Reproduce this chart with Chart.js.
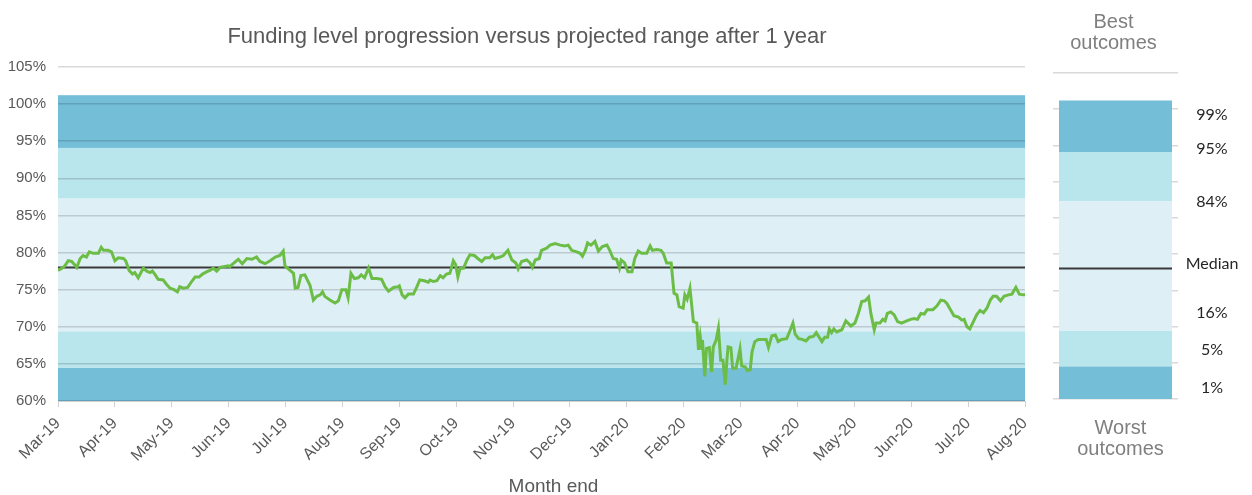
<!DOCTYPE html>
<html>
<head>
<meta charset="utf-8">
<script src="https://cdn.jsdelivr.net/npm/chart.js@4.4.1/dist/chart.umd.min.js"></script>
<style>
  html, body { margin: 0; padding: 0; background: #fff; }
  #wrap { position: relative; width: 1252px; height: 495px; overflow: hidden; }
  #mainChart { position: absolute; left: 0; top: 0; }
  #rangeChart { position: absolute; left: 1045px; top: 0; }
</style>
</head>
<body>
<div id="wrap">
  <canvas id="mainChart" width="1054" height="495"></canvas>
  <canvas id="rangeChart" width="207" height="495"></canvas>
</div>
<script>
// month-end tick labels (evenly spaced, one per month)
const monthLabels = ['Mar-19', 'Apr-19', 'May-19', 'Jun-19', 'Jul-19', 'Aug-19', 'Sep-19', 'Oct-19', 'Nov-19',
  'Dec-19', 'Jan-20', 'Feb-20', 'Mar-20', 'Apr-20', 'May-20', 'Jun-20', 'Jul-20', 'Aug-20'];

// position along the axis in months since Mar-19
const monthPos = [
  0, 0.07, 0.12, 0.18, 0.24, 0.30, 0.33, 0.39, 0.44, 0.50, 0.55, 0.62, 0.71, 0.76, 0.80, 0.88, 0.94,
  1.00, 1.06, 1.15, 1.19, 1.25, 1.31, 1.35, 1.41, 1.50, 1.56, 1.62, 1.66, 1.71, 1.76, 1.85, 1.91, 1.97,
  2.04, 2.10, 2.14, 2.20, 2.28, 2.35, 2.41, 2.48, 2.54, 2.61, 2.67, 2.73, 2.79, 2.85, 2.91, 2.99,
  3.02, 3.11, 3.17, 3.24, 3.32, 3.41, 3.49, 3.55, 3.64, 3.73, 3.82, 3.90, 3.96, 3.99,
  4.08, 4.14, 4.17, 4.22, 4.27, 4.34, 4.43, 4.49, 4.55, 4.61, 4.65, 4.69, 4.78, 4.87, 4.93, 4.99,
  5.06, 5.10, 5.15, 5.21, 5.28, 5.33, 5.39, 5.46, 5.52, 5.60, 5.69, 5.75, 5.81, 5.90, 5.98,
  6.00, 6.05, 6.10, 6.16, 6.25, 6.31, 6.36, 6.44, 6.51, 6.54, 6.60, 6.66, 6.72, 6.77, 6.83, 6.89, 6.95, 6.99,
  7.03, 7.07, 7.13, 7.19, 7.24, 7.32, 7.38, 7.45, 7.51, 7.59, 7.64, 7.68, 7.77, 7.83, 7.91, 7.98,
  8.05, 8.09, 8.15, 8.24, 8.30, 8.34, 8.39, 8.46, 8.50, 8.59, 8.65, 8.74, 8.83, 8.91, 8.97,
  9.03, 9.12, 9.18, 9.22, 9.27, 9.31, 9.37, 9.44, 9.50, 9.57, 9.65, 9.70, 9.76, 9.82, 9.87, 9.90, 9.96,
  10.02, 10.09, 10.14, 10.20, 10.26, 10.35, 10.41, 10.45, 10.53, 10.60, 10.64, 10.70, 10.78,
  10.83, 10.88, 10.92, 10.99, 11.02, 11.06, 11.11, 11.17, 11.23, 11.26, 11.29, 11.32, 11.33, 11.37, 11.40,
  11.45, 11.49, 11.52, 11.57, 11.61, 11.65, 11.69, 11.73, 11.76, 11.78, 11.83, 11.86, 11.92, 11.99,
  12.02, 12.08, 12.12, 12.17, 12.20, 12.25, 12.31, 12.40, 12.45, 12.49, 12.55, 12.61, 12.66, 12.72,
  12.81, 12.87, 12.92, 12.96, 13.02,
  13.08, 13.15, 13.21, 13.28, 13.33, 13.38, 13.43, 13.48, 13.53, 13.56, 13.60, 13.64, 13.69, 13.78, 13.85, 13.94,
  14.01, 14.07, 14.13, 14.19, 14.25, 14.29, 14.35, 14.38, 14.45, 14.50, 14.54, 14.58, 14.64, 14.70, 14.76, 14.83, 14.92, 14.99,
  15.05, 15.11, 15.17, 15.23, 15.28, 15.38, 15.45, 15.52, 15.58, 15.63, 15.69, 15.75, 15.83, 15.89, 15.93, 15.98,
  16.03, 16.08, 16.15, 16.21, 16.27, 16.33, 16.39, 16.44, 16.50, 16.57, 16.63, 16.71, 16.77, 16.84, 16.90, 16.97, 17.00
];

// funding level (%) at each position above
const fundingLevel = [
  77.6, 77.9, 78.2, 78.9, 78.8, 78.3, 78.0, 79.2, 79.6, 79.4, 80.1, 79.9, 79.9, 80.7, 80.3, 80.3, 80.1,
  78.9, 79.3, 79.2, 78.9, 77.6, 77.1, 77.3, 76.6, 77.9, 77.5, 77.3, 77.5, 77.0, 76.4, 76.3, 75.7, 75.2,
  75.0, 74.7, 75.4, 75.2, 75.3, 76.1, 76.7, 76.7, 77.1, 77.4, 77.6, 77.9, 77.5, 78.0, 78.1, 78.2,
  78.1, 78.7, 79.1, 78.5, 79.2, 79.1, 79.4, 78.8, 78.5, 78.9, 79.4, 79.6, 80.2, 78.2,
  77.6, 77.2, 75.2, 75.3, 76.9, 77.0, 75.6, 73.6, 74.1, 74.3, 74.7, 74.1, 73.6, 73.2, 73.5, 75.0,
  75.0, 73.9, 77.2, 76.5, 76.6, 77.0, 76.6, 77.9, 76.5, 76.5, 76.4, 75.4, 74.8, 75.3, 75.4,
  75.5, 74.3, 73.9, 74.4, 74.4, 75.4, 76.3, 76.2, 76.0, 76.3, 76.1, 76.2, 76.9, 76.6, 77.1, 77.2, 78.9, 78.4,
  76.7, 77.9, 77.9, 79.0, 79.7, 79.6, 79.2, 78.8, 79.3, 79.3, 79.7, 79.2, 79.4, 79.6, 80.3, 79.0,
  78.6, 77.8, 78.8, 79.0, 78.6, 78.0, 79.0, 79.2, 80.3, 80.6, 81.0, 81.2, 81.0, 80.9, 81.0,
  80.3, 80.1, 79.9, 79.5, 80.3, 81.3, 81.0, 81.5, 80.2, 80.8, 81.0, 80.3, 79.2, 79.1, 77.9, 79.0, 78.6,
  77.4, 77.4, 79.2, 80.2, 79.9, 79.9, 80.9, 80.3, 80.4, 80.3, 79.9, 78.6, 78.6,
  74.5, 74.3, 72.7, 72.5, 74.3, 73.7, 75.2, 70.7, 70.5, 66.9, 68.7, 66.9, 68.2, 63.3, 67.1,
  67.2, 63.9, 67.3, 68.2, 69.8, 65.5, 65.5, 62.2, 65.5, 67.3, 67.2, 64.4, 64.4, 67.0,
  64.7, 64.6, 64.1, 64.2, 66.6, 68.0, 68.3, 68.3, 68.3, 67.2, 68.8, 68.9, 68.0, 68.3,
  68.4, 69.5, 70.5, 69.0, 68.4,
  68.3, 68.1, 68.6, 68.7, 69.2, 68.6, 68.0, 68.6, 68.6, 69.7, 69.2, 69.7, 69.3, 69.6, 70.8, 70.1,
  70.5, 71.8, 73.4, 73.5, 74.0, 71.8, 69.6, 70.5, 70.5, 71.0, 70.8, 71.8, 72.0, 71.6, 70.7, 70.5, 70.8, 71.0,
  71.1, 71.0, 71.8, 71.7, 72.3, 72.3, 72.8, 73.6, 73.5, 73.1, 72.3, 71.5, 71.3, 70.9, 71.0, 70.0,
  69.7, 70.5, 71.6, 72.2, 71.9, 72.5, 73.6, 74.1, 74.1, 73.5, 74.1, 74.3, 74.4, 75.3, 74.4, 74.3, 74.3
];

const medianLevel = 78;
// projected range band edges (%), bottom to top: 1%, 5%, 16%, 84%, 95%, 99%
const bandEdges = [60, 64.5, 69.4, 87.3, 94.1, 101.2];
const rangeLabels = ['99%', '95%', '84%', 'Median', '16%', '5%', '1%'];
const rangeLabelPos = [99.2, 94.5, 87.2, 78.6, 71.9, 66.8, 61.6];

const chartTitle = 'Funding level progression versus projected range after 1 year';
const xTitle = 'Month end';

const bandColors = ['#74bed8', '#b9e5ec', '#deeff6', '#b9e5ec', '#74bed8'];
const gridColor = 'rgba(0,0,0,0.15)';
const textGrey = '#595959';
const sans = '"Liberation Sans", Arial, sans-serif';

// shaded range behind the gridlines of the main chart
const bandsPlugin = {
  id: 'bands',
  beforeDraw(chart) {
    const { ctx, chartArea: a, scales: { y } } = chart;
    ctx.save();
    for (let i = 0; i < bandColors.length; i++) {
      const top = y.getPixelForValue(bandEdges[i + 1]);
      const bottom = y.getPixelForValue(bandEdges[i]);
      ctx.fillStyle = bandColors[i];
      ctx.fillRect(a.left, top, a.right - a.left, bottom - top);
    }
    ctx.restore();
  },
  // title centred on the whole canvas, axis title a little right of centre
  afterDraw(chart) {
    const { ctx, chartArea: a } = chart;
    ctx.save();
    ctx.fillStyle = textGrey;
    ctx.textAlign = 'center';
    ctx.textBaseline = 'middle';
    ctx.font = '22px ' + sans;
    ctx.fillText(chartTitle, chart.width / 2, a.top - 30);
    ctx.font = '19px ' + sans;
    ctx.fillText(xTitle, (a.left + a.right) / 2 + 12, a.bottom + 86);
    ctx.restore();
  }
};

new Chart(document.getElementById('mainChart'), {
  type: 'line',
  data: {
    datasets: [
      {
        data: monthPos.map((m, i) => ({ x: m, y: fundingLevel[i] })),
        borderColor: '#6cbd45',
        borderWidth: 3,
        pointRadius: 0,
        tension: 0,
        order: 0
      },
      {
        data: [{ x: 0, y: medianLevel }, { x: monthLabels.length - 1, y: medianLevel }],
        borderColor: '#3a3a3a',
        borderWidth: 2,
        pointRadius: 0,
        order: 1
      }
    ]
  },
  options: {
    responsive: false,
    animation: false,
    layout: { padding: { left: 0, right: 29, top: 67, bottom: 0 } },
    plugins: {
      legend: { display: false },
      tooltip: { enabled: false },
      title: { display: false }
    },
    scales: {
      x: {
        type: 'linear',
        min: 0,
        max: monthLabels.length - 1,
        afterBuildTicks(s) { s.ticks = monthLabels.map((_, i) => ({ value: i })); },
        ticks: {
          autoSkip: false,
          maxRotation: 45,
          minRotation: 45,
          padding: 7,
          color: textGrey,
          font: { family: sans, size: 16 },
          callback: (v) => monthLabels[v]
        },
        grid: { drawOnChartArea: false, drawTicks: true, tickLength: 6, color: '#d0d0d0' },
        border: { display: true, color: '#d0d0d0' },
        afterFit(s) { s.height = 94; }
      },
      y: {
        min: 60,
        max: 105,
        ticks: {
          stepSize: 5,
          color: textGrey,
          font: { family: sans, size: 15 },
          padding: 12,
          callback: (v) => v + '%'
        },
        grid: { color: gridColor, lineWidth: 1.5, drawTicks: false },
        border: { display: false },
        afterFit(s) { s.width = 58; }
      }
    }
  },
  plugins: [bandsPlugin]
});

// labels, median and captions of the range panel
const rangeTextPlugin = {
  id: 'rangeText',
  afterDraw(chart) {
    const { ctx, chartArea: a, scales: { y } } = chart;
    const bar = chart.getDatasetMeta(0).data[0];
    const half = bar.width / 2;
    const my = y.getPixelForValue(medianLevel);
    ctx.save();
    ctx.strokeStyle = '#3a3a3a';
    ctx.lineWidth = 2;
    ctx.beginPath();
    ctx.moveTo(bar.x - half, my);
    ctx.lineTo(bar.x + half, my);
    ctx.stroke();

    ctx.font = '16px Lato, "Open Sans", sans-serif';
    ctx.fillStyle = '#262626';
    ctx.textAlign = 'center';
    ctx.textBaseline = 'middle';
    rangeLabels.forEach((t, i) => ctx.fillText(t, a.right + 34, y.getPixelForValue(rangeLabelPos[i])));

    const cx = (a.left + a.right) / 2;
    ctx.font = '20px ' + sans;
    ctx.fillStyle = '#7f7f7f';
    ctx.textBaseline = 'alphabetic';
    ctx.fillText('Best', cx - 2, a.top - 45);
    ctx.fillText('outcomes', cx - 2, a.top - 24);
    ctx.fillText('Worst', cx + 5, a.bottom + 35);
    ctx.fillText('outcomes', cx + 5, a.bottom + 56);
    ctx.restore();
  }
};

new Chart(document.getElementById('rangeChart'), {
  type: 'bar',
  data: {
    labels: [''],
    datasets: bandColors.map((c, i) => ({
      data: [[bandEdges[i], bandEdges[i + 1]]],
      backgroundColor: c,
      grouped: false,
      barPercentage: 0.904,
      categoryPercentage: 1
    }))
  },
  options: {
    responsive: false,
    animation: false,
    layout: { padding: { left: 8, right: 74, top: 73, bottom: 96 } },
    plugins: { legend: { display: false }, tooltip: { enabled: false } },
    scales: {
      x: { display: false },
      y: {
        min: 60,
        max: 105,
        z: 1,
        ticks: { display: false, stepSize: 5 },
        grid: { color: gridColor, lineWidth: 1.5, drawTicks: false },
        border: { display: false },
        afterFit(s) { s.width = 0; }
      }
    }
  },
  plugins: [rangeTextPlugin]
});
</script>
</body>
</html>
